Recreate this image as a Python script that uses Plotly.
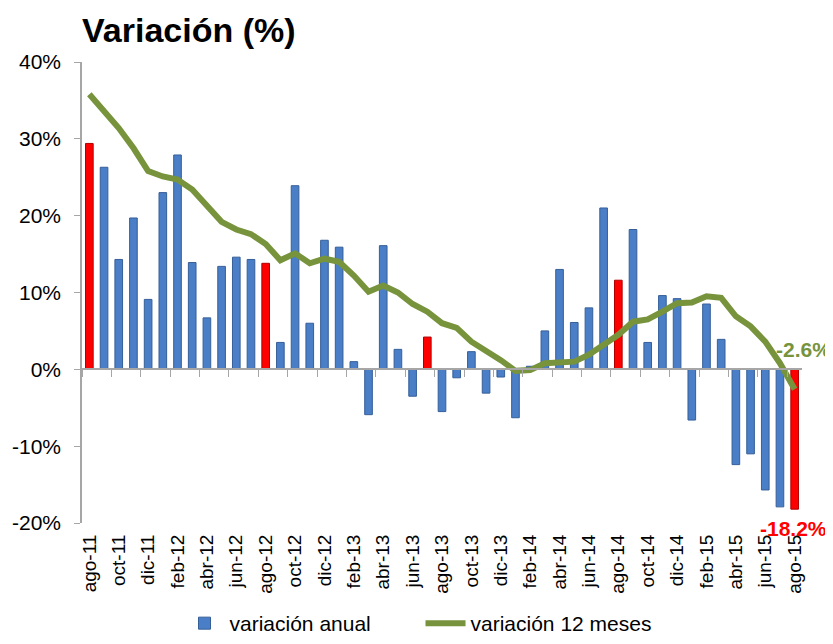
import plotly.graph_objects as go

months = ["ago-11", "sep-11", "oct-11", "nov-11", "dic-11", "ene-12", "feb-12", "mar-12",
          "abr-12", "may-12", "jun-12", "jul-12", "ago-12", "sep-12", "oct-12", "nov-12",
          "dic-12", "ene-13", "feb-13", "mar-13", "abr-13", "may-13", "jun-13", "jul-13",
          "ago-13", "sep-13", "oct-13", "nov-13", "dic-13", "ene-14", "feb-14", "mar-14",
          "abr-14", "may-14", "jun-14", "jul-14", "ago-14", "sep-14", "oct-14", "nov-14",
          "dic-14", "ene-15", "feb-15", "mar-15", "abr-15", "may-15", "jun-15", "jul-15",
          "ago-15"]

variacion_anual = [29.4, 26.3, 14.3, 19.7, 9.1, 23.0, 27.9, 13.9, 6.7, 13.4, 14.6, 14.3,
                   13.8, 3.5, 23.9, 6.0, 16.8, 15.9, 1.0, -5.9, 16.1, 2.6, -3.5, 4.2,
                   -5.5, -1.1, 2.3, -3.1, -1.0, -6.3, 0.4, 5.0, 13.0, 6.1, 8.0, 21.0,
                   11.6, 18.2, 3.5, 9.6, 9.2, -6.6, 8.5, 3.9, -12.4, -11.0, -15.7, -17.9,
                   -18.2]

variacion_12m = [35.8, 33.7, 31.4, 28.8, 25.8, 25.1, 24.7, 23.4, 21.2, 19.2, 18.2, 17.6,
                 16.3, 14.2, 15.1, 13.8, 14.4, 14.0, 12.2, 10.1, 10.9, 10.0, 8.5, 7.5,
                 6.0, 5.4, 3.6, 2.5, 1.2, -0.2, -0.1, 0.8, 0.9, 1.0, 1.9, 3.2,
                 4.5, 6.2, 6.5, 7.5, 8.6, 8.7, 9.5, 9.3, 6.9, 5.6, 3.6, 0.8,
                 -2.6]

highlight_months = ["ago-11", "ago-12", "jul-13", "ago-14", "ago-15"]
tick_labels = months[::2]
y_tick_values = [-20, -10, 0, 10, 20, 30, 40]
y_tick_labels = ["-20%", "-10%", "0%", "10%", "20%", "30%", "40%"]

BLUE = "#4A7EC6"
BLUE_EDGE = "#365F99"
RED = "#FF0000"
RED_EDGE = "#B00000"
GREEN = "#77933C"
FONT = "Liberation Sans, Arial, sans-serif"

bar_colors = [RED if m in highlight_months else BLUE for m in months]
bar_edges = [RED_EDGE if m in highlight_months else BLUE_EDGE for m in months]

fig = go.Figure()
# legend-only entry for the bar series (blue swatch)
fig.add_trace(go.Bar(
    x=[months[0]], y=[None], name="variación anual",
    marker=dict(color=BLUE, line=dict(color=BLUE_EDGE, width=1)),
    hoverinfo="skip",
))
fig.add_trace(go.Bar(
    x=months, y=variacion_anual, name="variación anual", showlegend=False,
    marker=dict(color=bar_colors, line=dict(color=bar_edges, width=1)),
    width=0.52,
))
fig.add_trace(go.Scatter(
    x=months, y=variacion_12m, name="variación 12 meses", mode="lines",
    line=dict(color=GREEN, width=6),
))
# invisible helper trace so the zero-line axis (with boundary ticks) is drawn
fig.add_trace(go.Scatter(x=[], y=[], xaxis="x2", showlegend=False, hoverinfo="skip"))

n = len(months)
# the page body adds an 8px offset; figure size/margins compensate for it
fig.update_layout(
    width=825, height=636,
    margin=dict(l=74, r=31, t=54, b=121, autoexpand=False),
    barmode="overlay",
    plot_bgcolor="white", paper_bgcolor="white",
    font=dict(family=FONT, size=18, color="#000000"),
    title=dict(text="<b>Variación (%)</b>", x=0.0, xref="paper", xanchor="left",
               yref="container", y=0.965, yanchor="middle",
               font=dict(family=FONT, size=34, color="#000000")),
    showlegend=True,
    legend=dict(orientation="h", xref="container", x=0.5, xanchor="center",
                yref="container", y=-0.024, yanchor="bottom",
                font=dict(family=FONT, size=21, color="#000000"),
                itemwidth=40, entrywidth=186, traceorder="normal"),
    xaxis=dict(type="category", range=[-0.5, n - 0.5], tickmode="array",
               tickvals=tick_labels, ticktext=tick_labels, tickangle=-90,
               showline=False, showgrid=False, zeroline=False, automargin=False,
               ticks="outside", ticklen=3, tickcolor="rgba(0,0,0,0)",
               tickfont=dict(family=FONT, size=19, color="#000000")),
    xaxis2=dict(overlaying="x", anchor="free", position=1 / 3, side="bottom",
                range=[-0.5, n - 0.5], tickmode="array",
                tickvals=[i + 0.5 for i in range(-1, n, 2)], automargin=False,
                showticklabels=False, ticks="outside", ticklen=7,
                tickcolor="#A6A6A6", showline=True, linecolor="#A6A6A6",
                linewidth=1.5, showgrid=False, zeroline=False),
    yaxis=dict(range=[-20, 40], tickmode="array", tickvals=y_tick_values,
               ticktext=y_tick_labels,
               showline=True, linecolor="#A6A6A6", linewidth=1.5,
               ticks="outside", ticklen=6, tickcolor="#A6A6A6",
               ticklabelstandoff=9, automargin=False,
               showgrid=False, zeroline=False,
               tickfont=dict(family=FONT, size=21, color="#000000")),
)

fig.add_annotation(x=months[-1], y=variacion_12m[-1], text="<b>-2.6%</b>",
                   showarrow=False, xanchor="center", yanchor="middle",
                   xshift=9, yshift=40,
                   font=dict(family=FONT, size=21, color=GREEN))
fig.add_annotation(x=months[-1], y=variacion_anual[-1], text="<b>-18.2%</b>",
                   showarrow=False, xanchor="center", yanchor="middle",
                   xshift=-1, yshift=-19,
                   font=dict(family=FONT, size=21, color=RED))

fig.write_html("out.html")
